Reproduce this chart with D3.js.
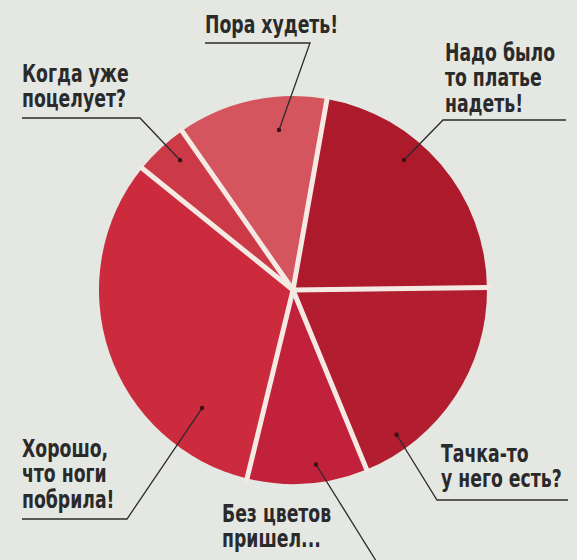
<!DOCTYPE html>
<html>
<head>
<meta charset="utf-8">
<script src="https://cdn.jsdelivr.net/npm/d3@7"></script>
<style>
  html, body { margin: 0; padding: 0; background: #e5e7e3; }
  svg { display: block; }
</style>
</head>
<body>
<script>
// answers, clockwise from the slice right of 12 o'clock
let answers = [
  "Надо было|то платье|надеть!",
  "Тачка-то|у него есть?",
  "Без цветов|пришел...",
  "Хорошо,|что ноги|побрила!",
  "Когда уже|поцелует?",
  "Пора худеть!"
];
let shares = [22, 19, 10, 32, 4.5, 12.5];
let colors = ["#ad1a2c", "#b31d30", "#c1213a", "#cc2a3d", "#cd3a47", "#d4555e"];

let width = 577, height = 560;
let cx = 293, cy = 290, r = 194;

let svg = d3.select("body")
  .append("svg")
  .attr("width", width)
  .attr("height", height);

svg.append("rect")
  .attr("width", width)
  .attr("height", height)
  .style("fill", "#e5e7e3");

let pie = d3.pie()
  .sort(null)
  .value(d => d)
  .startAngle(10.1 * Math.PI / 180)
  .endAngle(10.1 * Math.PI / 180 + 2 * Math.PI);

let arcs = pie(shares);
let arc = d3.arc().innerRadius(0).outerRadius(r);

let g = svg.append("g").attr("transform", `translate(${cx},${cy})`);

// slices
g.selectAll("path.slice")
  .data(arcs)
  .join("path")
  .attr("class", "slice")
  .attr("d", arc)
  .style("fill", (d, i) => colors[i]);

// white separators between slices
g.selectAll("line.sep")
  .data(arcs)
  .join("line")
  .attr("class", "sep")
  .attr("x1", 0)
  .attr("y1", 0)
  .attr("x2", d => d3.pointRadial(d.startAngle, r + 1)[0])
  .attr("y2", d => d3.pointRadial(d.startAngle, r + 1)[1])
  .style("stroke", "#f4e9e3")
  .style("stroke-width", 5)
  .style("stroke-linecap", "round");

// label layout: text anchor, first baseline, leader elbow, leader end, dot (angle, radius)
let layout = [
  { x: 445, y: 61, elbow: [443, 120], end: [566, 120], dot: [40.5, 171] },
  { x: 441, y: 462, elbow: [437, 500], end: [568, 500], dot: [144.4, 178] },
  { x: 222, y: 522, elbow: [383, 572], end: [383, 572], dot: [172.5, 176] },
  { x: 22, y: 457, elbow: [127, 519], end: [22, 519], dot: [217.6, 149] },
  { x: 22, y: 82, elbow: [140, 118], end: [22, 118], dot: [319, 172] },
  { x: 205, y: 33, elbow: [310, 43], end: [205, 43], dot: [355, 160.6] }
];

let labels = svg.append("g");

answers.forEach((a, i) => {
  let L = layout[i];
  let p = d3.pointRadial(L.dot[0] * Math.PI / 180, L.dot[1]);
  let dot = [cx + p[0], cy + p[1]];

  labels.append("path")
    .attr("d", d3.line()([dot, L.elbow, L.end]))
    .style("fill", "none")
    .style("stroke", "#2b2b2b")
    .style("stroke-width", 1.3);

  labels.append("circle")
    .attr("cx", dot[0])
    .attr("cy", dot[1])
    .attr("r", 2.2)
    .style("fill", "#3a1015");

  // condensed face squeezed a little more to match the narrow magazine type
  let t = labels.append("text")
    .attr("transform", `translate(${L.x},${L.y}) scale(0.8,1)`)
    .style("font-family", "'DejaVu Sans Condensed', 'Liberation Sans Narrow', sans-serif")
    .style("font-weight", "bold")
    .style("font-size", "24px")
    .style("fill", "#2a2a2a");

  a.split("|").forEach((line, j) => {
    t.append("tspan")
      .attr("x", 0)
      .attr("dy", j === 0 ? 0 : 25.5)
      .text(line);
  });
});
</script>
</body>
</html>
